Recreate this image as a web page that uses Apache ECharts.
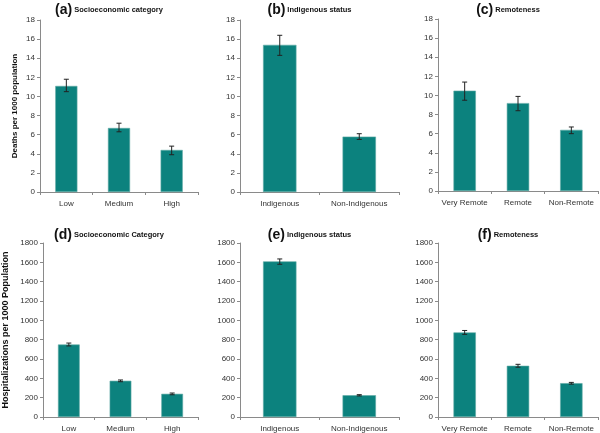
<!DOCTYPE html>
<html>
<head>
<meta charset="UTF-8"/>
<title>Deaths and hospitalizations</title>
<script src="https://cdn.jsdelivr.net/npm/echarts@6.0.0/dist/echarts.min.js"></script>
<style>
    * { margin: 0; padding: 0; }
    body { background: #fff; }
    #chart { width: 600px; height: 433px; }
</style>
</head>
<body>
<div id="chart"></div>
<script>
// categories
const catSes = ['Low', 'Medium', 'High'];
const catInd = ['Indigenous', 'Non-Indigenous'];
const catRem = ['Very Remote', 'Remote', 'Non-Remote'];

// deaths per 1000 population (value, lower, upper)
const deathSes = [11.1, 6.7, 4.4];
const deathSesLo = [10.5, 6.3, 3.9];
const deathSesHi = [11.8, 7.2, 4.8];
const deathInd = [15.4, 5.8];
const deathIndLo = [14.3, 5.5];
const deathIndHi = [16.4, 6.1];
const deathRem = [10.5, 9.2, 6.4];
const deathRemLo = [9.5, 8.4, 6.0];
const deathRemHi = [11.4, 9.9, 6.7];

// hospitalizations per 1000 population
const hospSes = [750, 375, 240];
const hospSesLo = [735, 365, 230];
const hospSesHi = [765, 383, 248];
const hospInd = [1610, 225];
const hospIndLo = [1580, 218];
const hospIndHi = [1635, 231];
const hospRem = [875, 530, 350];
const hospRemLo = [855, 515, 340];
const hospRemHi = [895, 545, 358];

const panels = [
    {tag: '(a)', name: 'Socioeconomic category', cats: catSes, v: deathSes, lo: deathSesLo, hi: deathSesHi, max: 18, interval: 2,
     grid: {left: 40, top: 20, width: 158, height: 172}, titleTop: 3,
     yName: 'Deaths per 1000 population', yGap: 21, yNameSize: 8},
    {tag: '(b)', name: 'Indigenous status', cats: catInd, v: deathInd, lo: deathIndLo, hi: deathIndHi, max: 18, interval: 2,
     grid: {left: 240, top: 20, width: 159, height: 172}, titleTop: 3},
    {tag: '(c)', name: 'Remoteness', cats: catRem, v: deathRem, lo: deathRemLo, hi: deathRemHi, max: 18, interval: 2,
     grid: {left: 438, top: 19, width: 160, height: 172}, titleTop: 3},
    {tag: '(d)', name: 'Socioeconomic Category', cats: catSes, v: hospSes, lo: hospSesLo, hi: hospSesHi, max: 1800, interval: 200,
     grid: {left: 40, top: 243, width: 158, height: 174}, titleTop: 228,
     yName: 'Hospitalizations per 1000 Population', yGap: 33, yNameSize: 9},
    {tag: '(e)', name: 'Indigenous status', cats: catInd, v: hospInd, lo: hospIndLo, hi: hospIndHi, max: 1800, interval: 200,
     grid: {left: 240, top: 243, width: 159, height: 174}, titleTop: 228},
    {tag: '(f)', name: 'Remoteness', cats: catRem, v: hospRem, lo: hospRemLo, hi: hospRemHi, max: 1800, interval: 200,
     grid: {left: 438, top: 243, width: 160, height: 175}, titleTop: 228}
];

const font = 'Liberation Sans, Arial, sans-serif';
const barColor = '#0c827e';
const axisColor = '#8a8a8a';

const option = {
    animation: false,
    textStyle: {fontFamily: font},
    title: [], grid: [], xAxis: [], yAxis: [], series: []
};

panels.forEach(function (p, i) {
    option.grid.push(p.grid);
    option.title.push({
        text: '{t|' + p.tag + '}{n|' + p.name + '}',
        left: p.grid.left + p.grid.width / 2 - 10,
        top: p.titleTop,
        textAlign: 'center',
        padding: 0,
        textStyle: {
            rich: {
                t: {fontSize: 14, fontWeight: 'bold', color: '#111', fontFamily: font, padding: [0, 2, 0, 0]},
                n: {fontSize: 7.5, fontWeight: 'bold', color: '#111', fontFamily: font}
            }
        }
    });
    option.xAxis.push({
        type: 'category', gridIndex: i, data: p.cats,
        axisLine: {lineStyle: {color: axisColor}},
        axisTick: {show: true, length: 3, lineStyle: {color: axisColor}},
        axisLabel: {color: '#333', fontSize: 8, margin: 8, interval: 0}
    });
    option.yAxis.push({
        type: 'value', gridIndex: i, min: 0, max: p.max, interval: p.interval,
        name: p.yName || '', nameLocation: 'middle', nameGap: p.yGap || 0,
        nameTextStyle: {fontSize: p.yNameSize || 8, fontWeight: 'bold', color: '#111'},
        splitLine: {show: false},
        axisLine: {show: true, lineStyle: {color: axisColor}},
        axisTick: {show: true, length: 3, lineStyle: {color: axisColor}},
        axisLabel: {color: '#333', fontSize: 8, margin: 5, formatter: function (v) { return String(v); }}
    });
    option.series.push({
        type: 'bar', xAxisIndex: i, yAxisIndex: i, data: p.v,
        barWidth: '42%',
        itemStyle: {color: barColor, borderColor: '#5fa9a5', borderWidth: 0.6}
    });
    option.series.push({
        type: 'custom', xAxisIndex: i, yAxisIndex: i,
        data: p.cats.map(function (c, k) { return [k, p.lo[k], p.hi[k]]; }),
        z: 10,
        renderItem: function (params, api) {
            const lo = api.coord([api.value(0), api.value(1)]);
            const hi = api.coord([api.value(0), api.value(2)]);
            const w = 2.5;
            const style = {stroke: '#222', lineWidth: 1};
            return {
                type: 'group',
                children: [
                    {type: 'line', shape: {x1: hi[0], y1: hi[1], x2: lo[0], y2: lo[1]}, style: style},
                    {type: 'line', shape: {x1: hi[0] - w, y1: hi[1], x2: hi[0] + w, y2: hi[1]}, style: style},
                    {type: 'line', shape: {x1: lo[0] - w, y1: lo[1], x2: lo[0] + w, y2: lo[1]}, style: style}
                ]
            };
        }
    });
});

const chart = echarts.init(document.getElementById('chart'));
chart.setOption(option);
</script>
</body>
</html>
